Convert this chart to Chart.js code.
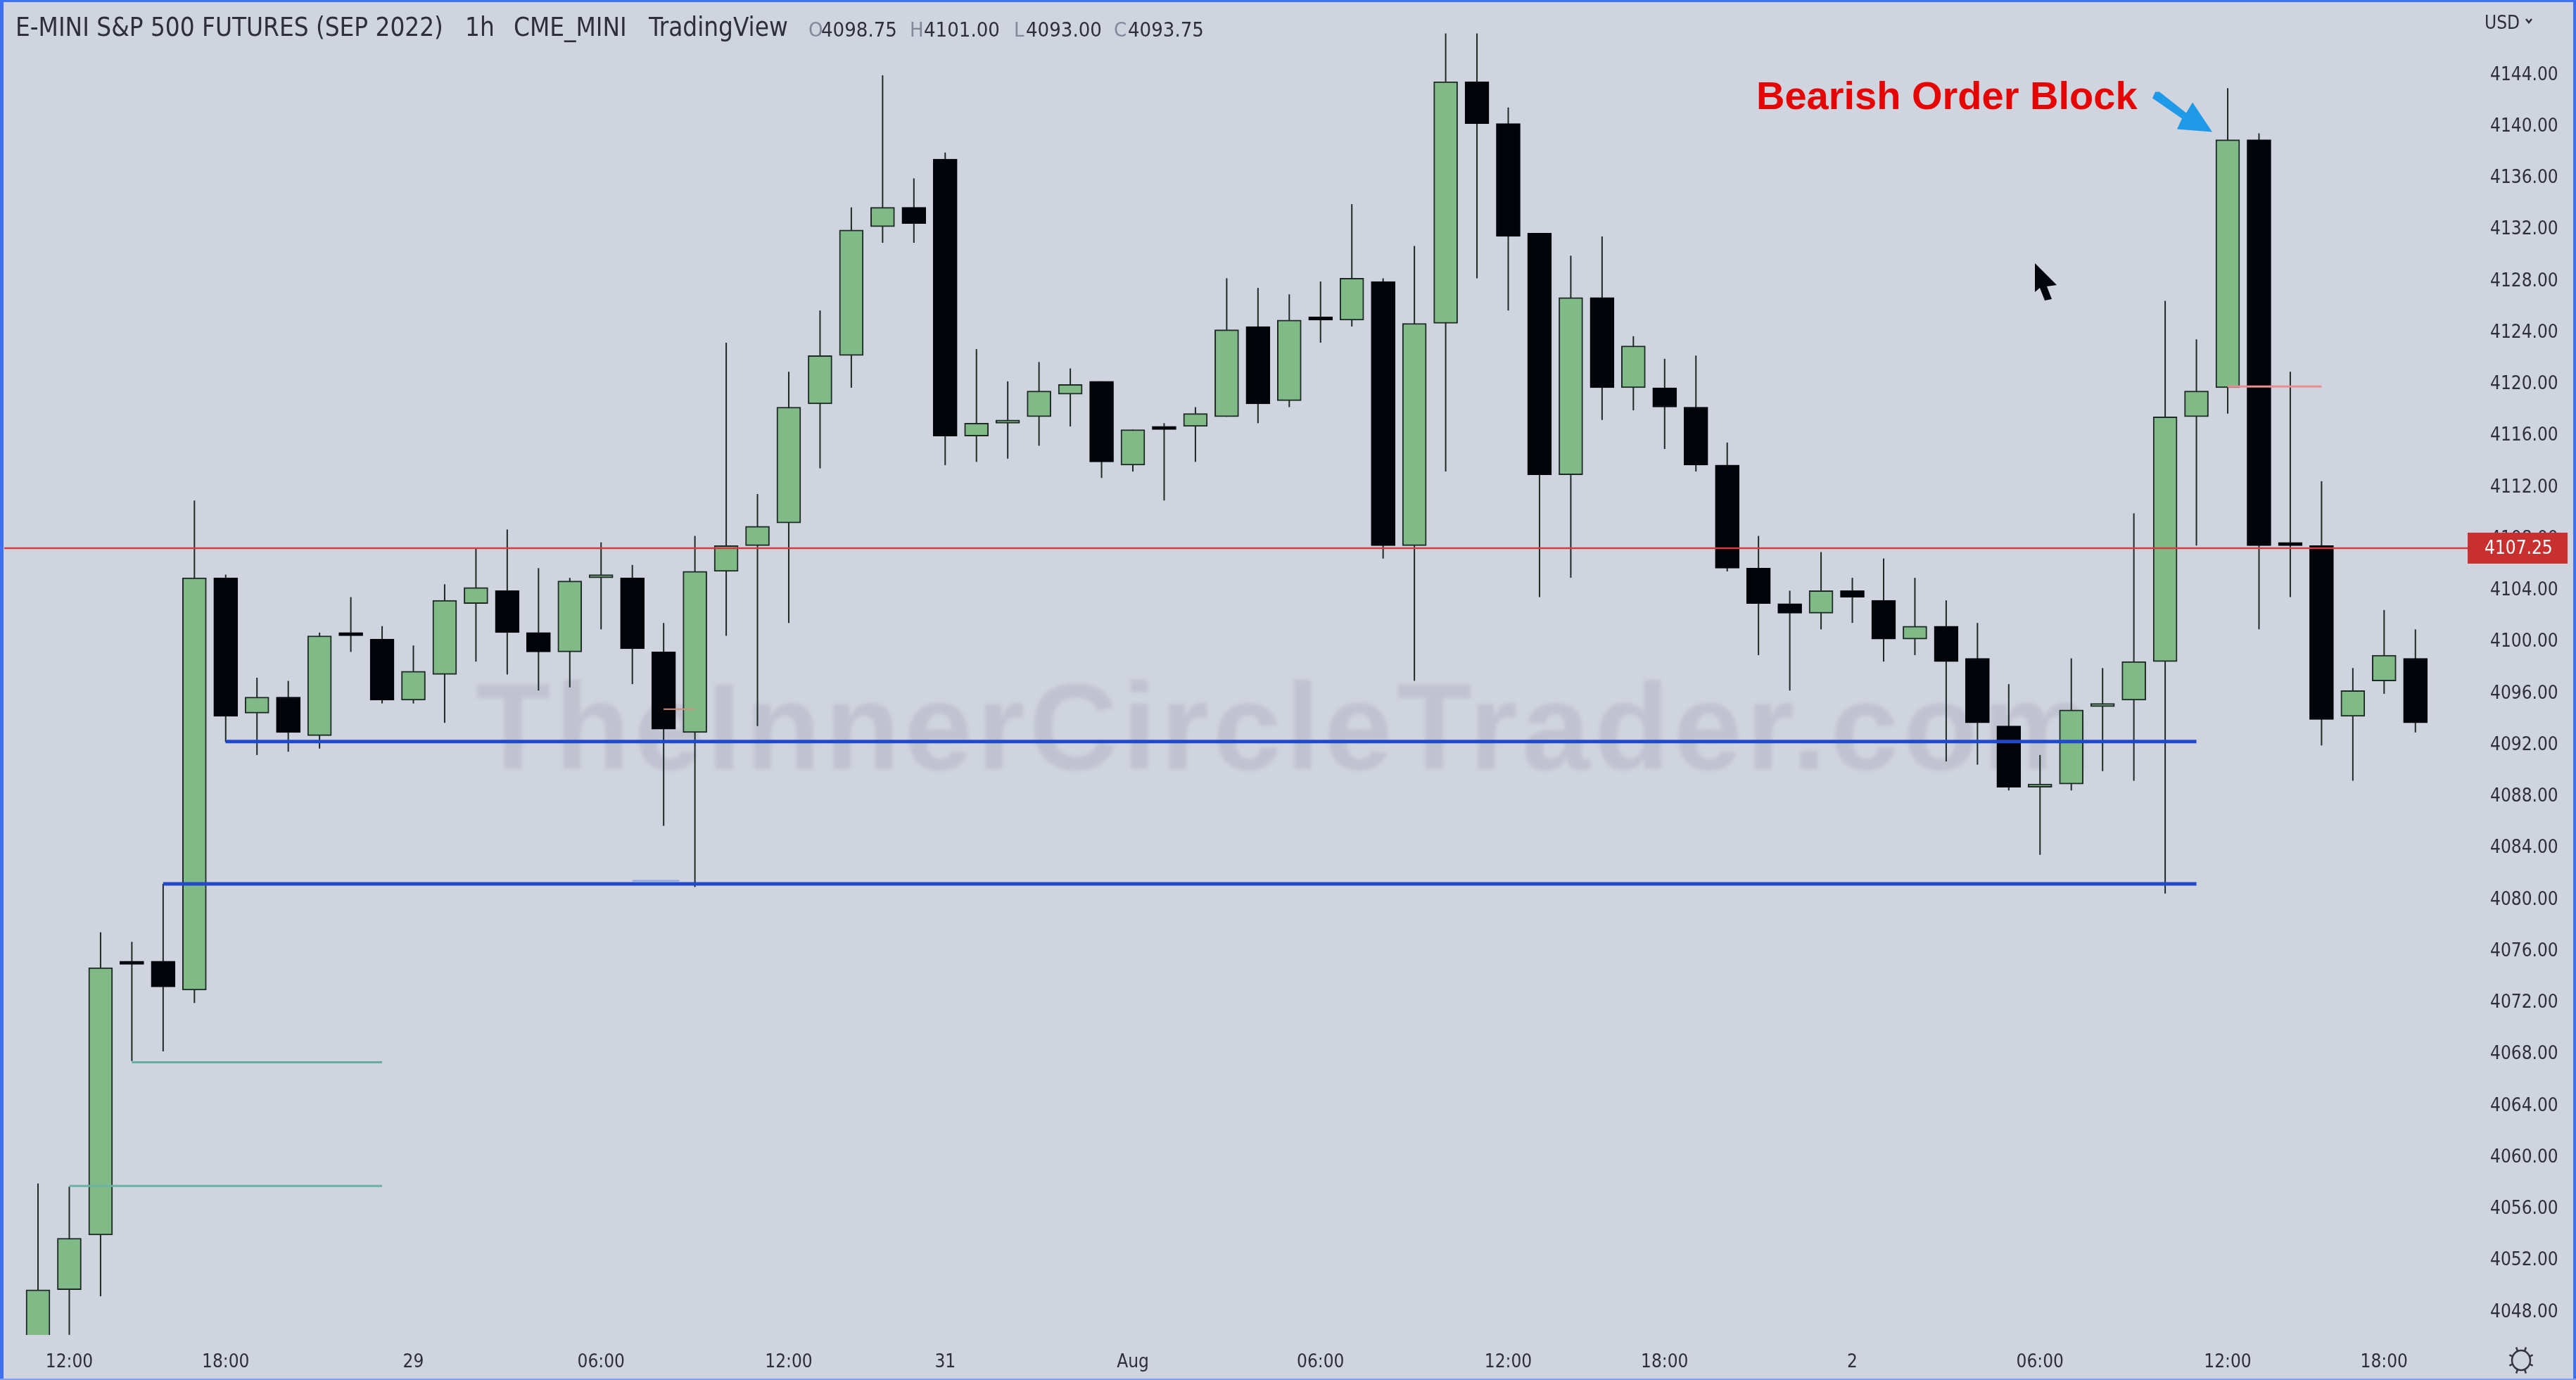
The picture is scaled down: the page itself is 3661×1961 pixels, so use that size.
<!DOCTYPE html>
<html>
<head>
<meta charset="utf-8">
<title>E-MINI S&P 500 FUTURES 1h</title>
<script src="https://cdn.jsdelivr.net/npm/chart.js@4/dist/chart.umd.min.js"></script>
<style>
  html, body { margin: 0; padding: 0; background: #d0d4df; overflow: hidden; }
  #box { position: relative; width: 3661px; height: 1961px; }
</style>
</head>
<body>
<div id="box"><canvas id="candles"></canvas></div>
<script>
// candles (hourly, index 0 = first bar on the left)
const opens = [4044,4049.75,4054,4075.25,4075.25,4073,4105,4094.5,4095.75,4092.75,4100.75,4100.25,4095.5,4097.5,4103,4104,4100.75,4099.25,4105,4105,4099.25,4093,4105.5,4107.5,4109.25,4118.5,4122.25,4132.25,4133.75,4137.5,4116,4117,4117.5,4119.25,4120.25,4113.75,4116.75,4116.75,4117.5,4124.5,4118.75,4125.25,4125,4128,4107.5,4124.75,4143.5,4140.25,4131.75,4113,4126.75,4119.75,4119.75,4118.25,4113.75,4105.75,4103,4102.25,4104,4103.25,4100.25,4101.25,4098.75,4093.5,4088.75,4089,4095,4095.5,4098.5,4117.5,4119.75,4139,4107.75,4107.5,4094.25,4097,4098.75];
const highs = [4058,4057.75,4077.5,4076.75,4081.25,4111,4105.25,4097.25,4097,4100.75,4103.5,4101.25,4099.75,4104.5,4107.25,4108.75,4105.75,4105,4107.75,4106,4101.5,4108.25,4123.25,4111.5,4121,4125.75,4133.75,4144,4136,4138,4122.75,4120.25,4121.75,4121.25,4120.25,4116.5,4117,4118.25,4128.25,4127.5,4127,4128,4134,4128.25,4130.75,4147.25,4147.25,4141.5,4131.75,4130,4131.5,4123.75,4122,4122.25,4115.5,4108.25,4104,4107,4105,4106.5,4105,4103.25,4101.5,4096.75,4091.25,4098.75,4098,4110,4126.5,4123.5,4143,4139.5,4121,4112.5,4098,4102.5,4101];
const lows = [4043,4046.25,4049.25,4067.5,4068.25,4072,4092.25,4091.25,4091.5,4091.75,4099.25,4095.25,4095.25,4093.75,4098.5,4097.5,4096.25,4096.5,4101,4096.75,4085.75,4081,4100.5,4093.5,4101.5,4113.5,4119.75,4131,4131,4113.75,4114,4114.25,4115.25,4116.75,4112.75,4113.25,4111,4114,4117.5,4117,4118.25,4123.25,4124.5,4106.5,4097,4113.25,4128.25,4125.75,4103.5,4105,4117.25,4118,4115,4113.25,4105.5,4099,4096.25,4101,4101.5,4098.5,4099,4090.75,4090.5,4088.5,4083.5,4088.5,4090,4089.25,4080.5,4107.5,4117.75,4101,4103.5,4092,4089.25,4096,4093];
const closes = [4049.75,4053.75,4074.75,4075,4073.25,4105,4094.25,4095.75,4093,4100.5,4100.5,4095.5,4097.75,4103.25,4104.25,4100.75,4099.25,4104.75,4105.25,4099.5,4093.25,4105.5,4107.5,4109,4118.25,4122.25,4132,4133.75,4132.5,4116,4117,4117.25,4119.5,4120,4114,4116.5,4116.5,4117.75,4124.25,4118.5,4125,4125,4128.25,4107.5,4124.75,4143.5,4140.25,4131.5,4113,4126.75,4119.75,4123,4118.25,4113.75,4105.75,4103,4102.25,4104,4103.5,4100.25,4101.25,4098.5,4093.75,4088.75,4089,4094.75,4095.25,4098.5,4117.5,4119.5,4139,4107.5,4107.5,4094,4096.25,4099,4093.75];

// axis labels
const priceTicks = [4048,4052,4056,4060,4064,4068,4072,4076,4080,4084,4088,4092,4096,4100,4104,4108,4112,4116,4120,4124,4128,4132,4136,4140,4144];
const timeTickBars = [1,6,12,18,24,29,35,41,47,52,58,64,70,75];
const timeTickLabels = ["12:00","18:00","29","06:00","12:00","31","Aug","06:00","12:00","18:00","2","06:00","12:00","18:00"];

// drawn horizontal levels: price, first bar, last bar
const levelPrices = [4107.3,4092.3,4081.25,4067.4,4057.8,4119.85,4081.5,4094.8];
const levelFrom = [-1.08,6,4,3,1,70,19,20];
const levelTo = [77.67,69,69,11,11,73,20.5,21];

const lastPrice = 4107.25;
const legendValues = ["4098.75","4101.00","4093.00","4093.75"];

const BG = "#d0d4df";
const GREEN = "#80ba87";
const DARK = "#03040a";
const LINE = "#1d2a26";
const FONT = '"DejaVu Sans Condensed", "DejaVu Sans", sans-serif';
const INK = "#2d303b";

const levelStyles = [
    { color: "#d63c42", width: 2.5 },
    { color: "#2149cc", width: 5 },
    { color: "#2149cc", width: 5 },
    { color: "#62ad9d", width: 3 },
    { color: "#6ab3a3", width: 3 },
    { color: "#ea8d93", width: 3 },
    { color: "#8ea2dc", width: 2 },
    { color: "#d2907f", width: 2 }
];

const isUp = opens.map((o, i) => closes[i] >= o);

const wickData = highs.map((h, i) => ({ x: i, y: [lows[i], h] }));
const bodyData = opens.map((o, i) => ({ x: i, y: [o, closes[i]] }));

const levelSets = levelPrices.map((p, i) => ({
    type: "line",
    label: "level " + p,
    data: [{ x: levelFrom[i], y: p }, { x: levelTo[i], y: p }],
    borderColor: levelStyles[i].color,
    borderWidth: levelStyles[i].width,
    pointRadius: 0,
    tension: 0,
    order: 0
}));

function drawPoly(ctx, pts, color) {
    ctx.fillStyle = color;
    ctx.beginPath();
    pts.forEach((p, i) => i ? ctx.lineTo(p[0], p[1]) : ctx.moveTo(p[0], p[1]));
    ctx.closePath();
    ctx.fill();
}

// no extra room around the plot, it has to fill the window
function noScalePadding(scale) {
    scale.paddingLeft = 0;
    scale.paddingRight = 0;
    scale.paddingTop = 0;
    scale.paddingBottom = 0;
}

// background and watermark go under the candles
const underlay = {
    id: "underlay",
    beforeDraw(chart) {
        const ctx = chart.ctx;
        ctx.save();
        ctx.fillStyle = BG;
        ctx.fillRect(0, 0, chart.width, chart.height);
        ctx.restore();
    },
    beforeDatasetsDraw(chart) {
        const ctx = chart.ctx;
        ctx.save();
        ctx.font = 'bold 174px "Liberation Sans", Arial, sans-serif';
        ctx.letterSpacing = "6.5px";
        ctx.fillStyle = "#c0c3cf";
        ctx.filter = "blur(2.5px)";
        ctx.textBaseline = "alphabetic";
        ctx.fillText("TheInnerCircleTrader.com", 676, 1093);
        ctx.restore();
    }
};

// header text, note, arrow, cursor, price tag and frame go on top
const overlay = {
    id: "overlay",
    afterDraw(chart) {
        const ctx = chart.ctx;
        const xs = chart.scales.x;
        const ys = chart.scales.y;
        ctx.save();

        // header line
        ctx.textBaseline = "alphabetic";
        ctx.fillStyle = INK;
        ctx.font = "36.5px " + FONT;
        ctx.fillText("E-MINI S&P 500 FUTURES (SEP 2022)", 22, 51);
        ctx.fillText("1h", 661, 51);
        ctx.fillText("CME_MINI", 730, 51);
        ctx.fillText("TradingView", 922, 51);
        const letters = ["O", "H", "L", "C"];
        const letterX = [1149, 1293, 1441, 1583];
        const valueX = [1167, 1313, 1458, 1603];
        ctx.font = "29px " + FONT;
        letters.forEach((l, i) => {
            ctx.fillStyle = "#85889a";
            ctx.fillText(l, letterX[i], 52);
            ctx.fillStyle = INK;
            ctx.fillText(legendValues[i], valueX[i], 52);
        });

        // currency selector
        ctx.font = "26px " + FONT;
        ctx.fillStyle = INK;
        ctx.fillText("USD", 3531, 41);
        ctx.strokeStyle = INK;
        ctx.lineWidth = 2.5;
        ctx.beginPath();
        ctx.moveTo(3590, 27);
        ctx.lineTo(3594, 32);
        ctx.lineTo(3598, 27);
        ctx.stroke();

        // last price tag
        const tagY = ys.getPixelForValue(lastPrice);
        ctx.fillStyle = "#c8302f";
        ctx.fillRect(3507, tagY - 23, 142, 44);
        ctx.fillStyle = "#ffffff";
        ctx.font = "26px " + FONT;
        ctx.textBaseline = "middle";
        ctx.fillText(lastPrice.toFixed(2), 3531, tagY);

        // note and arrow, placed from the top of the marked candle
        const bar = 70;
        const tipX = xs.getPixelForValue(bar) - 22;
        const tipY = ys.getPixelForValue(closes[bar]) - 11;
        ctx.fillStyle = "#e60505";
        ctx.font = 'bold 56px "Liberation Sans", Arial, sans-serif';
        ctx.textBaseline = "alphabetic";
        ctx.fillText("Bearish Order Block", tipX - 648, tipY - 33);
        drawPoly(ctx, [
            [tipX, tipY],
            [tipX - 50, tipY - 4],
            [tipX - 43, tipY - 19],
            [tipX - 85, tipY - 48],
            [tipX - 81, tipY - 57],
            [tipX - 75, tipY - 57],
            [tipX - 37, tipY - 27],
            [tipX - 28, tipY - 42]
        ], "#1e9ae8");

        // mouse pointer
        drawPoly(ctx, [[2892, 374], [2923, 405], [2909, 407], [2916, 425], [2906, 427], [2899, 409], [2892, 415]], "#05060c");

        // settings gear
        const gx = 3583, gy = 1933;
        ctx.strokeStyle = "#33363f";
        ctx.lineWidth = 2.5;
        ctx.beginPath();
        ctx.ellipse(gx, gy, 13, 14, 0, 0, Math.PI * 2);
        ctx.stroke();
        for (let k = 0; k < 8; k++) {
            const a = k * Math.PI / 4 + Math.PI / 8;
            ctx.beginPath();
            ctx.moveTo(gx + Math.cos(a) * 13, gy + Math.sin(a) * 14);
            ctx.lineTo(gx + Math.cos(a) * 18, gy + Math.sin(a) * 20);
            ctx.stroke();
        }

        // blue window frame
        ctx.fillStyle = "#3f6ff2";
        ctx.fillRect(0, 0, chart.width, 3);
        ctx.fillRect(0, 0, 5, chart.height);
        ctx.fillRect(chart.width - 4, 0, 4, chart.height);
        ctx.fillStyle = "#7fa0f5";
        ctx.fillRect(0, chart.height - 2, chart.width, 2);
        ctx.restore();
    }
};

const ctx = document.getElementById("candles").getContext("2d");
const chart = new Chart(ctx, {
    type: "bar",
    data: {
        datasets: [
            ...levelSets,
            {
                label: "body",
                data: bodyData,
                backgroundColor: isUp.map(up => up ? GREEN : DARK),
                borderColor: isUp.map(up => up ? LINE : DARK),
                borderWidth: 2,
                borderSkipped: false,
                barThickness: 34,
                grouped: false,
                order: 1
            },
            {
                label: "wick",
                data: wickData,
                backgroundColor: LINE,
                borderWidth: 0,
                inflateAmount: 0,
                barThickness: 2,
                grouped: false,
                order: 2
            }
        ]
    },
    options: {
        responsive: true,
        maintainAspectRatio: false,
        animation: false,
        events: [],
        layout: { padding: { left: 6, top: 3, right: 0, bottom: 0 } },
        plugins: { legend: { display: false }, tooltip: { enabled: false } },
        scales: {
            x: {
                type: "linear",
                min: -1.08,
                max: 77.67,
                offset: false,
                grid: { display: false },
                border: { display: false },
                afterFit: scale => { scale.height = 64; noScalePadding(scale); },
                afterBuildTicks: scale => { scale.ticks = timeTickBars.map(v => ({ value: v })); },
                ticks: {
                    autoSkip: false,
                    maxRotation: 0,
                    padding: 16,
                    color: INK,
                    font: { family: FONT, size: 26 },
                    callback: (value, index) => timeTickLabels[index]
                }
            },
            y: {
                position: "right",
                min: 4046.24,
                max: 4149.68,
                grid: { display: false },
                border: { display: false },
                afterFit: scale => { scale.width = 154; noScalePadding(scale); },
                afterBuildTicks: scale => { scale.ticks = priceTicks.map(v => ({ value: v })); },
                ticks: {
                    autoSkip: false,
                    padding: 24,
                    color: INK,
                    font: { family: FONT, size: 26 },
                    callback: value => value.toFixed(2)
                }
            }
        }
    },
    plugins: [underlay, overlay]
});
</script>
</body>
</html>
